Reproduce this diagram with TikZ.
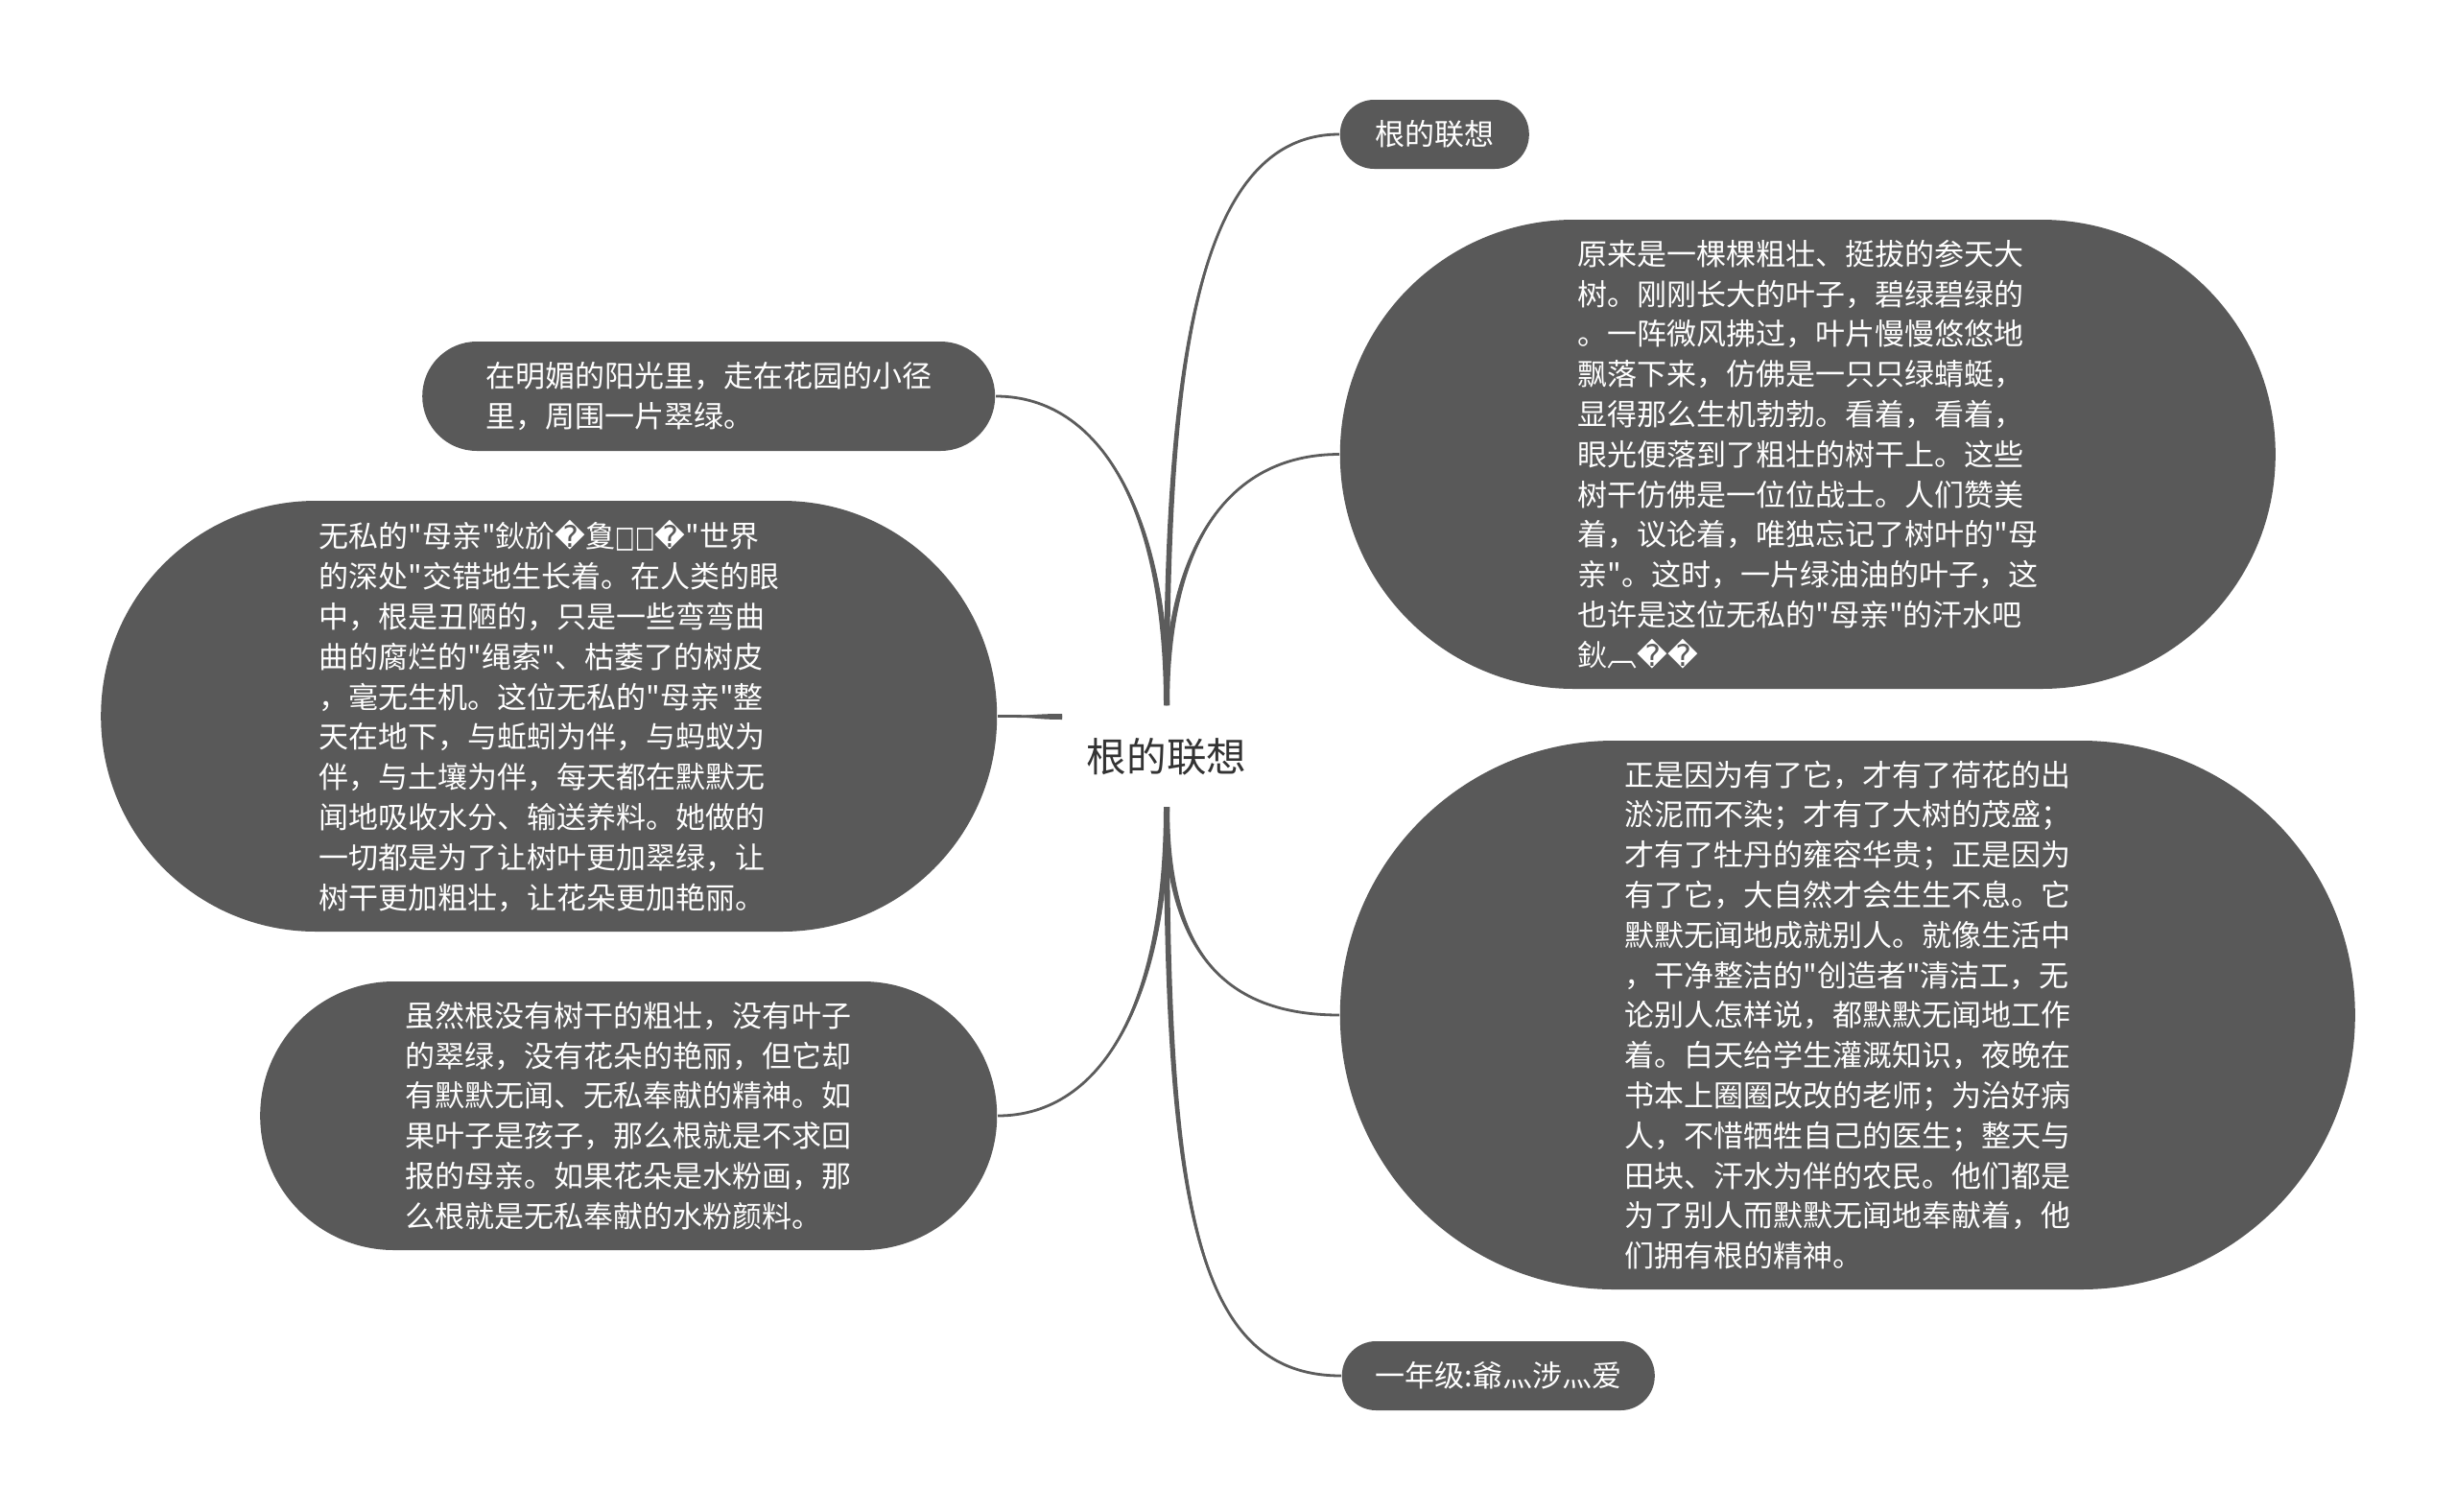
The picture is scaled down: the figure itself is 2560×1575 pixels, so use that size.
\documentclass[tikz,border=0pt]{standalone}
\usepackage{fontspec}
\usepackage{graphicx}
\setmainfont{Noto Sans CJK SC}[Ligatures=TeXOff]
\newfontfamily\glyphfont{DejaVu Sans}
\usetikzlibrary{positioning}

\definecolor{bubblegray}{HTML}{595959}
\definecolor{twiggray}{HTML}{5C5C5C}
\definecolor{roottext}{HTML}{333333}

\newcommand{\bad}{{\glyphfont �}}
\newcommand{\tofu}{\scalebox{0.7}[1]{\glyphfont □}}
% tapered branch: #1 root side, #2 start control, #3 end control, #4 target
\newcommand{\twig}[4]{%
  \fill[twiggray] (#1a) .. controls +#2 and +#3 .. (#4) .. controls +#3 and +#2 .. (#1b) -- cycle;
  \draw[twig] (#1) .. controls +#2 and +#3 .. (#4);}

\begin{document}
\begin{tikzpicture}[
    x=0.25pt, y=-0.25pt,
    bubble/.style={fill=bubblegray, text=white, align=left, inner sep=0pt,
      font=\fontsize{7.75}{10.45}\selectfont},
    twig/.style={draw=twiggray, line width=0.7pt}
]
\fill[white] (0,0) rectangle (2560,1575);
\useasboundingbox (0,0) rectangle (2560,1575);

\node[font=\fontsize{10.4}{12}\selectfont, text=roottext] (root) at (1216,789) {根的联想};

% right side
\node[bubble, anchor=west, minimum width=49.25pt, minimum height=18pt, rounded corners=8.9pt] (topic) at (1396,140) {根的联想};
\node[bubble, anchor=west, minimum width=243.75pt, minimum height=122.25pt, rounded corners=61pt] (r1) at (1396,473.5) {%
原来是一棵棵粗壮、挺拔的参天大\\
树。刚刚长大的叶子，碧绿碧绿的\\
。一阵微风拂过，叶片慢慢悠悠地\\
飘落下来，仿佛是一只只绿蜻蜓，\\
显得那么生机勃勃。看着，看着，\\
眼光便落到了粗壮的树干上。这些\\
树干仿佛是一位位战士。人们赞美\\
着，议论着，唯独忘记了树叶的"母\\
亲"。这时，一片绿油油的叶子，这\\
也许是这位无私的"母亲"的汗水吧\\
鈥︹\bad\bad};
\node[bubble, anchor=west, minimum width=264.5pt, minimum height=143pt, rounded corners=71.4pt] (r2) at (1396,1058) {%
正是因为有了它，才有了荷花的出\\
淤泥而不染；才有了大树的茂盛；\\
才有了牡丹的雍容华贵；正是因为\\
有了它，大自然才会生生不息。它\\
默默无闻地成就别人。就像生活中\\
，干净整洁的"创造者"清洁工，无\\
论别人怎样说，都默默无闻地工作\\
着。白天给学生灌溉知识，夜晚在\\
书本上圈圈改改的老师；为治好病\\
人，不惜牺牲自己的医生；整天与\\
田块、汗水为伴的农民。他们都是\\
为了别人而默默无闻地奉献着，他\\
们拥有根的精神。};
\node[bubble, anchor=west, minimum width=81.5pt, minimum height=18pt, rounded corners=8.9pt] (r3) at (1398,1434) {一年级:爺灬涉灬爱};

% left side
\node[bubble, anchor=east, minimum width=149.25pt, minimum height=28.5pt, rounded corners=14.2pt] (l1) at (1038,413) {%
在明媚的阳光里，走在花园的小径\\
里，周围一片翠绿。};
\node[bubble, anchor=east, minimum width=233.5pt, minimum height=112.25pt, rounded corners=56pt] (l2) at (1040,746.5) {%
无私的"母亲"鈥斺\bad 夐\tofu\tofu\bad"世界\\
的深处"交错地生长着。在人类的眼\\
中，根是丑陋的，只是一些弯弯曲\\
曲的腐烂的"绳索"、枯萎了的树皮\\
，毫无生机。这位无私的"母亲"整\\
天在地下，与蚯蚓为伴，与蚂蚁为\\
伴，与土壤为伴，每天都在默默无\\
闻地吸收水分、输送养料。她做的\\
一切都是为了让树叶更加翠绿，让\\
树干更加粗壮，让花朵更加艳丽。};
\node[bubble, anchor=east, minimum width=192pt, minimum height=70pt, rounded corners=34.9pt] (l3) at (1040,1163) {%
虽然根没有树干的粗壮，没有叶子\\
的翠绿，没有花朵的艳丽，但它却\\
有默默无闻、无私奉献的精神。如\\
果叶子是孩子，那么根就是不求回\\
报的母亲。如果花朵是水粉画，那\\
么根就是无私奉献的水粉颜料。};

% branch roots
\coordinate (top) at (1216,735);
\coordinate (topa) at (1213,735);
\coordinate (topb) at (1219,735);
\coordinate (bot) at (1216,841);
\coordinate (bota) at (1213,841);
\coordinate (botb) at (1219,841);
\coordinate (lft) at (1107,747);
\coordinate (lfta) at (1107,744);
\coordinate (lftb) at (1107,750);

\twig{top}{(0,-350)}{(-150,0)}{topic.west}
\twig{top}{(0,-160)}{(-120,0)}{r1.west}
\twig{top}{(0,-200)}{(110,0)}{l1.east}
\twig{lft}{(-30,0)}{(30,0)}{l2.east}
\twig{bot}{(0,150)}{(-120,0)}{r2.west}
\twig{bot}{(0,420)}{(-150,0)}{r3.west}
\twig{bot}{(0,200)}{(110,0)}{l3.east}
\end{tikzpicture}
\end{document}
